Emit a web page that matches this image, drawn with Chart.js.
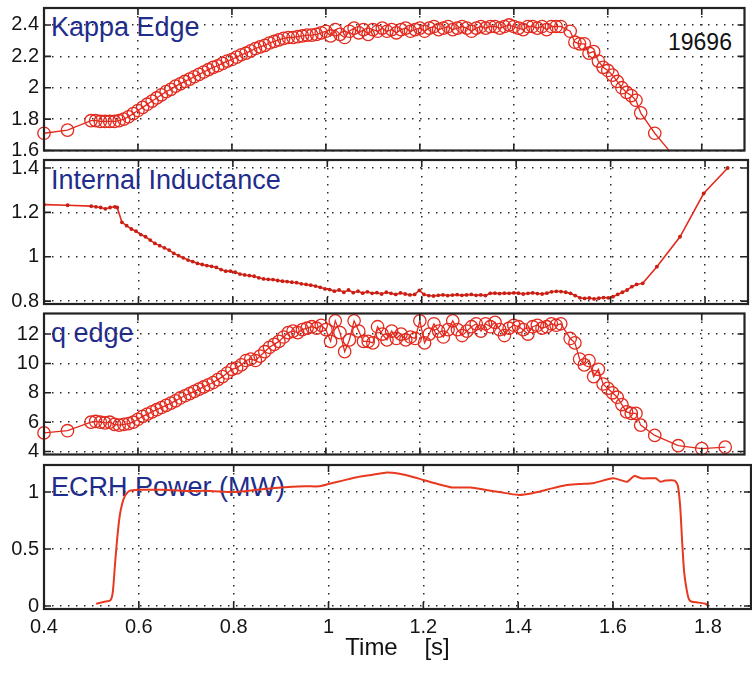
<!DOCTYPE html>
<html>
<head>
<meta charset="utf-8">
<script src="https://cdn.jsdelivr.net/npm/chart.js@4.4.1/dist/chart.umd.min.js"></script>
<style>
  html, body { margin: 0; padding: 0; background: #ffffff; }
  #wrap { position: relative; width: 752px; height: 675px; overflow: hidden; background: #fff; }
  canvas { position: absolute; left: 0; z-index: 2; }
  .lbl { position: absolute; z-index: 1; font-family: "Liberation Sans", Arial, Helvetica, sans-serif;
         font-size: 27px; line-height: 1; color: #1f2d8c; white-space: nowrap; }
  .shot { position: absolute; z-index: 1; font-family: "Liberation Sans", Arial, Helvetica, sans-serif;
          font-size: 23px; line-height: 1; color: #111; white-space: nowrap; }
</style>
</head>
<body>
<div id="wrap">
  <div class="lbl" style="left:51px; top:14px;">Kappa Edge</div>
  <div class="shot" style="left:668px; top:31px;">19696</div>
  <div class="lbl" style="left:51px; top:167px;">Internal Inductance</div>
  <div class="lbl" style="left:51px; top:320px;">q edge</div>
  <div class="lbl" style="left:51px; top:474px;">ECRH Power (MW)</div>
  <canvas id="c1" width="752" height="158" style="top:0px"></canvas>
  <canvas id="c2" width="752" height="154" style="top:154px"></canvas>
  <canvas id="c3" width="752" height="156" style="top:306px"></canvas>
  <canvas id="c4" width="752" height="220" style="top:455px"></canvas>
</div>
<script>
// ---------------- DATA ----------------
const xTicks = [0.4, 0.6, 0.8, 1.0, 1.2, 1.4, 1.6, 1.8];
const xTickLabels = ['0.4', '0.6', '0.8', '1', '1.2', '1.4', '1.6', '1.8'];

const kappaTicks = [1.6, 1.8, 2.0, 2.2, 2.4];
const kappaTickLabels = ['1.6', '1.8', '2', '2.2', '2.4'];
const liTicks = [0.8, 1.0, 1.2, 1.4];
const liTickLabels = ['0.8', '1', '1.2', '1.4'];
const qTicks = [4, 6, 8, 10, 12];
const qTickLabels = ['4', '6', '8', '10', '12'];
const pTicks = [0, 0.5, 1];
const pTickLabels = ['0', '0.5', '1'];

// time base shared by Kappa Edge and q edge (s)
const tEdge = [0.40, 0.45,
  0.50, 0.51, 0.52, 0.53, 0.54, 0.55, 0.56, 0.57, 0.58, 0.59,
  0.60, 0.61, 0.62, 0.63, 0.64, 0.65, 0.66, 0.67, 0.68, 0.69,
  0.70, 0.71, 0.72, 0.73, 0.74, 0.75, 0.76, 0.77, 0.78, 0.79,
  0.80, 0.81, 0.82, 0.83, 0.84, 0.85, 0.86, 0.87, 0.88, 0.89,
  0.90, 0.91, 0.92, 0.93, 0.94, 0.95, 0.96, 0.97, 0.98, 0.99,
  1.00, 1.01, 1.02, 1.03, 1.04, 1.05, 1.06, 1.07, 1.08, 1.09,
  1.10, 1.11, 1.12, 1.13, 1.14, 1.15, 1.16, 1.17, 1.18, 1.19,
  1.20, 1.21, 1.22, 1.23, 1.24, 1.25, 1.26, 1.27, 1.28, 1.29,
  1.30, 1.31, 1.32, 1.33, 1.34, 1.35, 1.36, 1.37, 1.38, 1.39,
  1.40, 1.41, 1.42, 1.43, 1.44, 1.45, 1.46, 1.47, 1.48, 1.49,
  1.50,
  1.52, 1.53, 1.54, 1.55, 1.56, 1.57, 1.58, 1.59, 1.60, 1.61, 1.62, 1.63, 1.64, 1.65, 1.66, 1.67,
  1.70, 1.75, 1.80, 1.85];

const kappaEdge = [1.71, 1.73,
  1.79, 1.79, 1.785, 1.785, 1.785, 1.785, 1.79, 1.80, 1.815, 1.835,
  1.855, 1.875, 1.895, 1.915, 1.935, 1.955, 1.975, 1.99, 2.01, 2.025,
  2.04, 2.055, 2.07, 2.085, 2.10, 2.115, 2.13, 2.14, 2.155, 2.17,
  2.18, 2.195, 2.21, 2.22, 2.235, 2.25, 2.26, 2.27, 2.285, 2.295,
  2.305, 2.315, 2.32, 2.32, 2.325, 2.33, 2.335, 2.335, 2.34, 2.35,
  2.36, 2.33, 2.37, 2.34, 2.32, 2.36, 2.38, 2.35, 2.37, 2.34,
  2.37, 2.36, 2.38, 2.36, 2.37, 2.35, 2.37, 2.38, 2.36, 2.37,
  2.38, 2.36, 2.38, 2.39, 2.37, 2.38, 2.39, 2.37, 2.38, 2.39,
  2.38, 2.36, 2.38, 2.39, 2.38, 2.39, 2.39, 2.38, 2.39, 2.40,
  2.39, 2.38, 2.37, 2.39, 2.39, 2.38, 2.39, 2.37, 2.39, 2.39,
  2.39,
  2.36, 2.29, 2.28, 2.28, 2.22, 2.23, 2.17, 2.13, 2.11, 2.08, 2.04, 2.00, 1.97, 1.95, 1.92, 1.84,
  1.71, 1.53, null, null];

const qEdge = [5.27, 5.42,
  6.0, 6.05, 6.0, 5.95, 6.0, 5.85, 5.8, 5.85, 5.9, 6.0,
  6.2, 6.4, 6.55, 6.7, 6.85, 7.0, 7.15, 7.3, 7.45, 7.65,
  7.8, 7.95, 8.1, 8.25, 8.4, 8.55, 8.7, 8.9, 9.1, 9.35,
  9.6, 9.7, 9.9, 10.2, 10.3, 10.2, 10.5, 10.8, 11.1, 11.3,
  11.5, 11.8, 12.1, 12.2, 12.1, 12.3, 12.4, 12.5, 12.4, 12.6,
  12.3, 11.5, 12.9, 12.1, 10.8, 11.6, 12.9, 12.2, 11.5, 11.5,
  11.4, 12.5, 12.0, 11.6, 12.2, 11.7, 12.0, 11.6, 11.8, 11.7,
  12.9, 11.4, 12.0, 12.7, 12.2, 11.8, 12.3, 12.9, 12.3, 11.9,
  12.2, 12.5, 12.7, 12.2, 12.7, 12.5, 12.8, 12.3, 11.9, 12.4,
  12.6, 12.5, 12.3, 12.0, 12.5, 12.6, 12.4, 12.5, 12.7, 12.6,
  12.7,
  11.7, 11.4, 10.3, 9.9, 10.2, 9.1, 9.6, 8.6, 8.3, 8.0, 7.7, 7.2, 6.7, 6.6, 6.6, 5.8,
  5.1, 4.4, 4.2, 4.3];

// internal inductance
const tLi = [0.40, 0.45, 0.50, 0.51, 0.52, 0.53, 0.54, 0.55, 0.555,
  0.565, 0.575, 0.585, 0.595, 0.605, 0.615, 0.625, 0.635, 0.645, 0.655,
  0.665, 0.675, 0.685, 0.695, 0.705, 0.715, 0.725, 0.735, 0.745, 0.755,
  0.765, 0.775, 0.785, 0.795, 0.805, 0.815, 0.825, 0.835, 0.845, 0.855,
  0.865, 0.875, 0.885, 0.895, 0.905, 0.915, 0.925, 0.935, 0.945, 0.955,
  0.965, 0.975, 0.985, 0.995, 1.005, 1.015, 1.025, 1.035, 1.045, 1.055,
  1.065, 1.075, 1.085, 1.095, 1.105, 1.115, 1.125, 1.135, 1.145, 1.155,
  1.165, 1.175, 1.185, 1.195, 1.205, 1.215, 1.225, 1.235, 1.245, 1.255,
  1.265, 1.275, 1.285, 1.295, 1.305, 1.315, 1.325, 1.335, 1.345, 1.355,
  1.365, 1.375, 1.385, 1.395, 1.405, 1.415, 1.425, 1.435, 1.445, 1.455,
  1.465, 1.475, 1.485, 1.495, 1.505, 1.515, 1.525, 1.535, 1.545, 1.555,
  1.565, 1.575, 1.585, 1.595, 1.605, 1.615, 1.625, 1.635, 1.645, 1.655,
  1.668, 1.698, 1.747, 1.797, 1.848];
const li = [1.235, 1.232, 1.228, 1.225, 1.222, 1.216, 1.222, 1.225, 1.222,
  1.155, 1.14, 1.125, 1.115, 1.10, 1.09, 1.075, 1.06, 1.05, 1.04,
  1.03, 1.015, 1.005, 0.995, 0.985, 0.978, 0.97, 0.965, 0.96, 0.957,
  0.952, 0.942, 0.935, 0.935, 0.93, 0.922, 0.918, 0.915, 0.912, 0.905,
  0.90, 0.898, 0.897, 0.893, 0.89, 0.888, 0.885, 0.883, 0.878, 0.875,
  0.872, 0.868, 0.862, 0.855, 0.852, 0.845, 0.85, 0.84, 0.85, 0.838,
  0.845, 0.836, 0.842, 0.835, 0.838, 0.832, 0.84, 0.835, 0.83, 0.837,
  0.832, 0.828, 0.83, 0.848, 0.83, 0.825, 0.823, 0.826, 0.828, 0.825,
  0.827, 0.829, 0.826, 0.828, 0.83, 0.826, 0.828, 0.825, 0.835, 0.836,
  0.834, 0.836, 0.835, 0.837, 0.836, 0.832, 0.835, 0.837, 0.834, 0.832,
  0.836, 0.842, 0.844, 0.843, 0.84, 0.835, 0.825, 0.815, 0.812, 0.814,
  0.81, 0.813, 0.816, 0.815, 0.82, 0.83, 0.84, 0.85, 0.865, 0.875,
  0.88, 0.955, 1.09, 1.285, 1.40];

// ECRH power (MW)
const tEcrh = [0.51, 0.52, 0.53, 0.54, 0.545, 0.55, 0.555, 0.56, 0.565, 0.57, 0.575, 0.58,
  0.60, 0.62, 0.65, 0.70, 0.75, 0.80, 0.85, 0.90, 0.95, 0.98, 1.00, 1.03, 1.06, 1.09,
  1.12, 1.15, 1.18, 1.20, 1.23, 1.26, 1.30, 1.33, 1.36, 1.40, 1.43, 1.46, 1.50, 1.53,
  1.56, 1.60, 1.62, 1.63, 1.645, 1.66, 1.69, 1.70, 1.71, 1.73, 1.737, 1.742, 1.746,
  1.75, 1.755, 1.76, 1.765, 1.78, 1.795, 1.80];
const ecrh = [0.02, 0.03, 0.04, 0.05, 0.12, 0.38, 0.62, 0.80, 0.90, 0.96, 0.99, 1.01,
  1.02, 1.02, 1.02, 1.01, 1.01, 1.00, 1.02, 1.04, 1.05, 1.05, 1.07, 1.10, 1.13, 1.15,
  1.17, 1.16, 1.13, 1.105, 1.07, 1.04, 1.04, 1.02, 1.00, 0.975, 0.99, 1.02, 1.06, 1.07,
  1.08, 1.12, 1.10, 1.09, 1.14, 1.12, 1.12, 1.09, 1.10, 1.10, 1.05, 0.85, 0.55,
  0.30, 0.15, 0.06, 0.04, 0.03, 0.02, 0.0];

// ---------------- STYLE / BUILD ----------------
const RED = '#e32a1e';
const FONT = '"Liberation Sans", Arial, Helvetica, sans-serif';
const X_MIN = 0.4, X_MAX = 1.891;

const framePlugin = {
  id: 'frame',
  afterDraw(chart) {
    const { ctx, chartArea: a, scales: { x, y } } = chart;
    ctx.save();
    ctx.strokeStyle = '#222222';
    ctx.lineWidth = 1.6;
    ctx.beginPath();
    x.ticks.forEach(t => {
      const px = x.getPixelForValue(t.value);
      ctx.moveTo(px, a.bottom); ctx.lineTo(px, a.bottom - 7);
      ctx.moveTo(px, a.top); ctx.lineTo(px, a.top + 7);
    });
    y.ticks.forEach(t => {
      const py = y.getPixelForValue(t.value);
      ctx.moveTo(a.left, py); ctx.lineTo(a.left + 7, py);
      ctx.moveTo(a.right, py); ctx.lineTo(a.right - 7, py);
    });
    ctx.stroke();
    ctx.lineWidth = 2.2;
    ctx.strokeRect(a.left, a.top, a.right - a.left, a.bottom - a.top);
    ctx.restore();
  }
};

function pts(tArr, vArr) { return tArr.map((t, i) => ({ x: t, y: vArr[i] })); }

function makePanel(id, datasets, yMin, yMax, yT, yL, padTop, padBottom, bottomAxis) {
  const grid = { color: '#2a2a2a', lineWidth: 1.5, drawTicks: false };
  const border = { display: false, dash: [1.5, 6.5] };
  return new Chart(document.getElementById(id), {
    type: 'line',
    data: { datasets },
    options: {
      responsive: false, animation: false, devicePixelRatio: 1,
      layout: { padding: { top: padTop, bottom: padBottom, left: 0, right: 1 } },
      plugins: { legend: { display: false }, tooltip: { enabled: false } },
      scales: {
        x: {
          type: 'linear', min: X_MIN, max: X_MAX,
          afterBuildTicks: s => { s.ticks = xTicks.map(v => ({ value: v })); },
          afterFit: s => { s.height = bottomAxis ? 66 : 0; s.paddingLeft = 0; s.paddingRight = 0; },
          ticks: { display: bottomAxis, padding: 6, autoSkip: false, maxRotation: 0,
                   color: '#151515', font: { family: FONT, size: 20 },
                   callback: (v, i) => xTickLabels[i] },
          title: { display: bottomAxis, text: 'Time    [s]', color: '#111',
                   font: { family: FONT, size: 24 }, padding: { top: 0, bottom: 12 } },
          grid, border
        },
        y: {
          type: 'linear', min: yMin, max: yMax,
          afterBuildTicks: s => { s.ticks = yT.map(v => ({ value: v })); },
          afterFit: s => { s.width = 44; s.paddingTop = 0; s.paddingBottom = 0; },
          ticks: { padding: 5, autoSkip: false, color: '#151515', font: { family: FONT, size: 20 },
                   callback: (v, i) => yL[i] },
          grid, border
        }
      }
    },
    plugins: [framePlugin]
  });
}

const circleStyle = {
  borderColor: RED, borderWidth: 1.3, pointRadius: 6.2, pointBorderWidth: 1.3,
  pointBorderColor: RED, pointBackgroundColor: 'rgba(255,255,255,0)', tension: 0, spanGaps: false
};

makePanel('c1', [Object.assign({ data: pts(tEdge, kappaEdge), clip: { left: 10, top: 0, right: 0, bottom: 0 } }, circleStyle)],
  1.6, 2.508, kappaTicks, kappaTickLabels, 8, 7, false);

makePanel('c2', [{ data: pts(tLi, li), borderColor: RED, borderWidth: 1.6, pointRadius: 1.9,
  pointBorderWidth: 0, pointBackgroundColor: '#c81e14', tension: 0 }],
  0.787, 1.436, liTicks, liTickLabels, 6, 4, false);

makePanel('c3', [Object.assign({ data: pts(tEdge, qEdge), clip: { left: 10, top: 5, right: 0, bottom: 5 } }, circleStyle)],
  3.8, 13.4, qTicks, qTickLabels, 7, 5, false);

makePanel('c4', [{ data: pts(tEcrh, ecrh), borderColor: '#e8381f', borderWidth: 2, pointRadius: 0,
  tension: 0.25 }],
  -0.026, 1.237, pTicks, pTickLabels, 10, 0, true);
</script>
</body>
</html>
